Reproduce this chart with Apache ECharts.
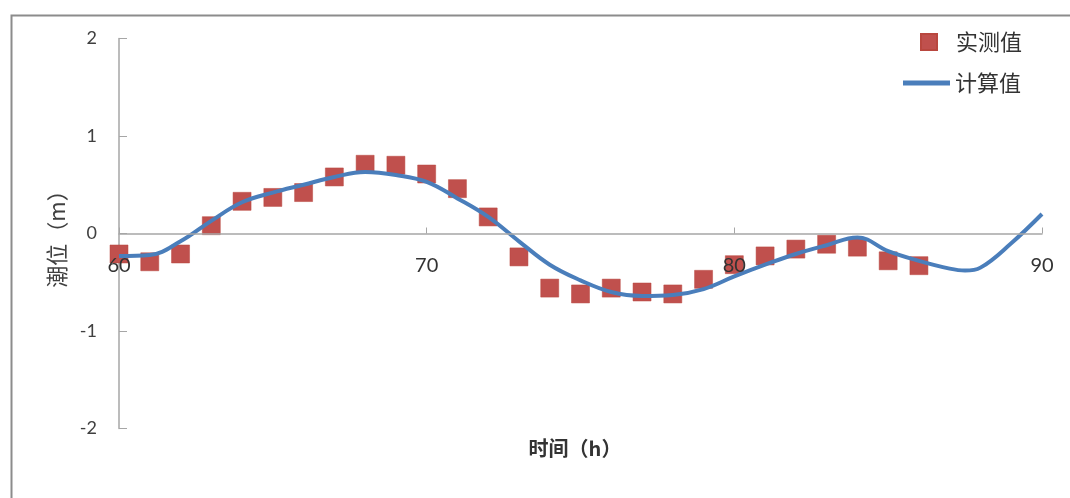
<!DOCTYPE html>
<html>
<head>
<meta charset="utf-8">
<script src="https://cdn.jsdelivr.net/npm/echarts@6/dist/echarts.min.js"></script>
<style>
html,body{margin:0;padding:0;background:#fff;}
#chart{width:1070px;height:498px;}
</style>
</head>
<body>
<div id="chart"></div>
<script>
const measuredHours = [60,61,62,63,64,65,66,67,68,69,70,71,72,73,74,75,76,77,78,79,80,81,82,83,84,85,86];
const measuredValues = [-0.21,-0.29,-0.21,0.08,0.33,0.37,0.42,0.58,0.71,0.70,0.61,0.46,0.17,-0.24,-0.56,-0.62,-0.56,-0.60,-0.62,-0.47,-0.32,-0.23,-0.16,-0.11,-0.14,-0.28,-0.33];
const calcHours = [60,61,62,63,64,65,66,67,68,69,70,71,72,73,74,75,76,77,78,79,80,81,82,83,84,85,86,87,87.5,88,89,90];
const calcValues = [-0.23,-0.22,-0.08,0.13,0.32,0.42,0.50,0.58,0.63,0.60,0.53,0.36,0.17,-0.08,-0.32,-0.48,-0.60,-0.64,-0.63,-0.57,-0.44,-0.32,-0.21,-0.12,-0.04,-0.18,-0.28,-0.36,-0.38,-0.35,-0.10,0.20];
const seriesNames = ['实测值','计算值'];
const xTitle = '时间（h）';
const yTitle = '潮位（m）';

const chart = echarts.init(document.getElementById('chart'));
const legendText = {fontFamily:'"Noto Sans CJK SC"', fontSize:22, color:'#333', lineHeight:22};
chart.setOption({
  animation:false,
  backgroundColor:'#fff',
  grid:{left:119, right:28, top:38.5, bottom:69.5, containLabel:false},
  legend:[
    {
      orient:'vertical', left:920, top:31, padding:0, itemWidth:16, itemHeight:16,
      textStyle:Object.assign({padding:[0,0,0,14]}, legendText),
      data:[{name:seriesNames[0], icon:'rect'}]
    },
    {
      orient:'vertical', left:903, top:72, padding:0, itemWidth:47, itemHeight:5,
      textStyle:Object.assign({padding:[0,0,0,0]}, legendText),
      data:[{name:seriesNames[1], icon:'rect'}]
    }
  ],
  graphic:[
    {type:'rect', left:9, top:13, shape:{width:1200, height:700}, style:{fill:'none', stroke:'#8c8c8c', lineWidth:2}, z:-1, silent:true},
    {type:'text', x:575, y:448, style:{text:xTitle, fontFamily:'"Noto Sans CJK SC"', fontSize:20, fontWeight:'bold', fill:'#333', align:'center', verticalAlign:'middle'}}
  ],
  xAxis:{
    type:'value', min:60, max:90, interval:10,
    offset:-195, z:10,
    axisLine:{onZero:false, lineStyle:{color:'#a6a6a6', width:1.5}},
    axisTick:{inside:true, length:6, lineStyle:{color:'#a6a6a6'}},
    axisLabel:{margin:22, fontFamily:'Lato, "Open Sans", sans-serif', fontSize:20, color:'#333'},
    splitLine:{show:false}
  },
  yAxis:{
    type:'value', min:-2, max:2, interval:1,
    name:yTitle, nameLocation:'middle', nameRotate:90, nameGap:51,
    nameTextStyle:{fontFamily:'"Noto Sans CJK SC"', fontSize:22, color:'#404040'},
    axisLine:{show:true, lineStyle:{color:'#a6a6a6', width:1.5}},
    axisTick:{show:true, inside:true, length:8, lineStyle:{color:'#a6a6a6'}},
    axisLabel:{margin:22, fontFamily:'Lato, "Open Sans", sans-serif', fontSize:18, color:'#404040'},
    splitLine:{show:false}
  },
  series:[
    {
      name:seriesNames[0], type:'scatter', symbol:'rect', symbolSize:18,
      itemStyle:{color:'#C0504D', opacity:1, borderColor:'#b9473f', borderWidth:0.5},
      data:measuredHours.map((h,i)=>[h, measuredValues[i]]), z:2
    },
    {
      name:seriesNames[1], type:'line', smooth:0.4, showSymbol:false, symbol:'none',
      lineStyle:{color:'#4A7EBB', width:4}, itemStyle:{color:'#4A7EBB'},
      data:calcHours.map((h,i)=>[h, calcValues[i]]), z:3
    }
  ]
});
</script>
</body>
</html>
